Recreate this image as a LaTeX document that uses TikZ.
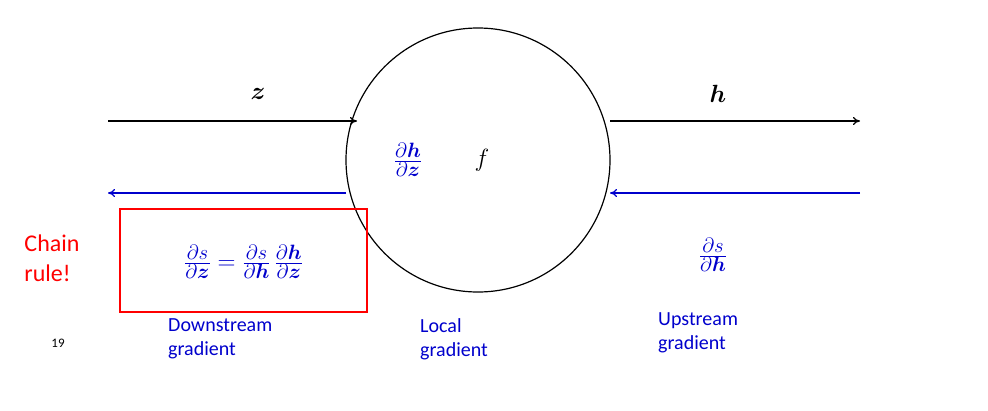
\documentclass[tikz,border=0pt]{standalone}
\usepackage{amsmath,bm}
\usepackage{fontspec}
\usetikzlibrary{arrows.meta}
\newfontfamily\carl{Carlito}
\begin{document}
\begin{tikzpicture}[x=1pt,y=-1pt,
  blk/.style={line width=1.2pt,-{To[length=7pt,width=8pt]}},
  blu/.style={blk,blue!80!black},
  lab/.style={font=\carl\fontsize{20}{24}\selectfont,text=blue!80!black,align=left,anchor=north west,inner sep=0pt},
  mth/.style={font=\fontsize{28}{34}\selectfont,inner sep=0pt}]
\useasboundingbox (0,0) rectangle (988,410);
\node[draw,circle,line width=1.2pt,minimum size=264pt,inner sep=0pt] (c) at (478,160) {};
\coordinate (a1) at (108,121); \coordinate (a2) at (357,121);
\coordinate (b1) at (610,121); \coordinate (b2) at (860,121);
\coordinate (d1) at (346,193); \coordinate (d2) at (108,193);
\coordinate (e1) at (860,193); \coordinate (e2) at (610,193);
\draw[blk] (a1) -- (a2);
\draw[blk] (b1) -- (b2);
\draw[blu] (d1) -- (d2);
\draw[blu] (e1) -- (e2);
\node[mth] (z) at (258,94) {$\bm{z}$};
\node[mth] (h) at (718,94) {$\bm{h}$};
\node[mth,text=blue!80!black] (loc) at (408,160) {$\frac{\partial \bm{h}}{\partial \bm{z}}$};
\node[mth] (f) at (482,160) {$f$};
\node[draw=red,line width=2pt,minimum width=247pt,minimum height=103pt,inner sep=0pt] (box) at (243.5,260.5) {};
\node[mth,text=blue!80!black] (cr) at (243.5,262) {$\frac{\partial s}{\partial \bm{z}}=\frac{\partial s}{\partial \bm{h}}\,\frac{\partial \bm{h}}{\partial \bm{z}}$};
\node[mth,text=blue!80!black] (up) at (713,255) {$\frac{\partial s}{\partial \bm{h}}$};
\node[font=\carl\fontsize{24}{30}\selectfont,text=red,align=left] (chain) at (52,258) {Chain\\rule!};
\node[font=\carl\fontsize{13}{15}\selectfont] (n) at (58,343) {19};
\node[lab] (ds) at (168,318) {Downstream\\gradient};
\node[lab] (lg) at (420,318) {Local\\gradient};
\node[lab] (ug) at (658,312) {Upstream\\gradient};
\end{tikzpicture}
\end{document}
